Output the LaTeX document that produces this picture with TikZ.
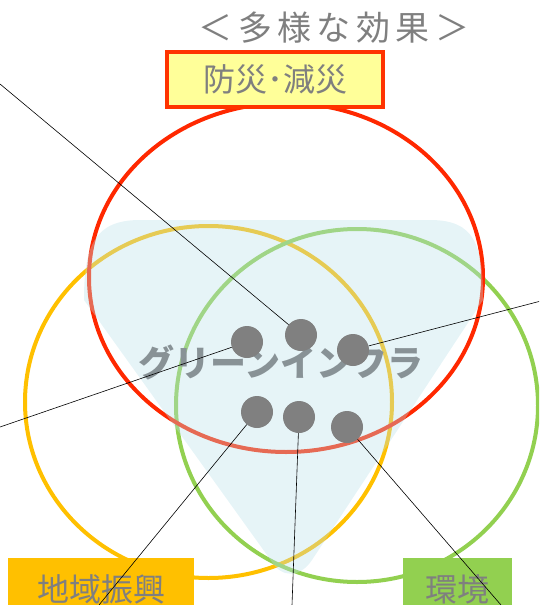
\documentclass[tikz,border=0pt]{standalone}
\usepackage{fontspec}
\newfontfamily\jp{Noto Sans CJK JP}
\newfontfamily\jpls{Noto Sans CJK JP}[LetterSpace=16]
\definecolor{ringred}{RGB}{255,40,0}
\definecolor{ringyellow}{RGB}{255,192,0}
\definecolor{ringgreen}{RGB}{146,208,80}
\definecolor{blobblue}{RGB}{186,224,233}
\definecolor{boxred}{RGB}{255,51,0}
\definecolor{boxyellow}{RGB}{255,255,153}
\definecolor{boxorange}{RGB}{255,192,0}
\definecolor{boxgreen}{RGB}{146,208,80}
\definecolor{txtgray}{RGB}{127,127,127}
\definecolor{gitxt}{RGB}{136,146,150}
\definecolor{dotgray}{RGB}{128,128,128}
\begin{document}
\begin{tikzpicture}[x=1pt,y=-1pt,
  ring/.style={line width=4pt},
  labelbox/.style={inner sep=0pt, text=txtgray, font=\jp\fontsize{32}{36}\selectfont},
  dot/.style={circle, fill=dotgray, minimum size=32pt, inner sep=0pt},
  conn/.style={draw=black, line width=0.6pt}
]
\useasboundingbox (0,0) rectangle (539,605);
\clip (0,0) rectangle (539,605);
% rings
\draw[ring, ringyellow] (208.5,402) ellipse [x radius=183.5, y radius=176];
\draw[ring, ringgreen] (357,405.5) ellipse [x radius=181, y radius=176.5];
\draw[ring, ringred] (286,277.5) ellipse [x radius=197, y radius=174.5];
% translucent blob
\fill[blobblue, opacity=0.36]
  (84,300) .. controls (84,245) and (95,220) .. (140,220)
  -- (430,220) .. controls (475,220) and (483,245) .. (483,300)
  -- (312,560) .. controls (300,578) and (282,578) .. (272,562) -- cycle;
% title
\node[inner sep=0pt, text=txtgray, font=\jpls\fontsize{34}{38}\selectfont] (title) at (334,28) {＜多様な効果＞};
% label boxes
\node[labelbox, draw=boxred, fill=boxyellow, line width=3.5pt, minimum width=216pt, minimum height=55pt] (bousai) at (275,79.5) {防災･減災};
\node[labelbox, fill=boxorange, minimum width=186pt, minimum height=62pt] (chiiki) at (101,589) {地域振興};
\node[labelbox, fill=boxgreen, minimum width=109pt, minimum height=62pt] (kankyo) at (457.5,589) {環境};
% centre text
\node[inner sep=0pt, text=gitxt, font=\jp\bfseries\fontsize{36}{40}\selectfont] (gi) at (281,362) {グリーンインフラ};
% dots
\node[dot] (d1) at (247,342) {};
\node[dot] (d2) at (301,335) {};
\node[dot] (d3) at (353,350) {};
\node[dot] (d4) at (257,412) {};
\node[dot] (d5) at (299,417) {};
\node[dot] (d6) at (347,427) {};
% connector ends
\coordinate (e1) at (0,84);
\coordinate (e2) at (0,427);
\coordinate (e3) at (539,301.5);
\coordinate (e4) at (99,605);
\coordinate (e5) at (292,605);
\coordinate (e6) at (501,605);
\draw[conn] (e1) -- (d2);
\draw[conn] (e2) -- (d1);
\draw[conn] (e3) -- (d3);
\draw[conn] (d4) -- (e4);
\draw[conn] (d5) -- (e5);
\draw[conn] (d6) -- (e6);
\end{tikzpicture}
\end{document}
